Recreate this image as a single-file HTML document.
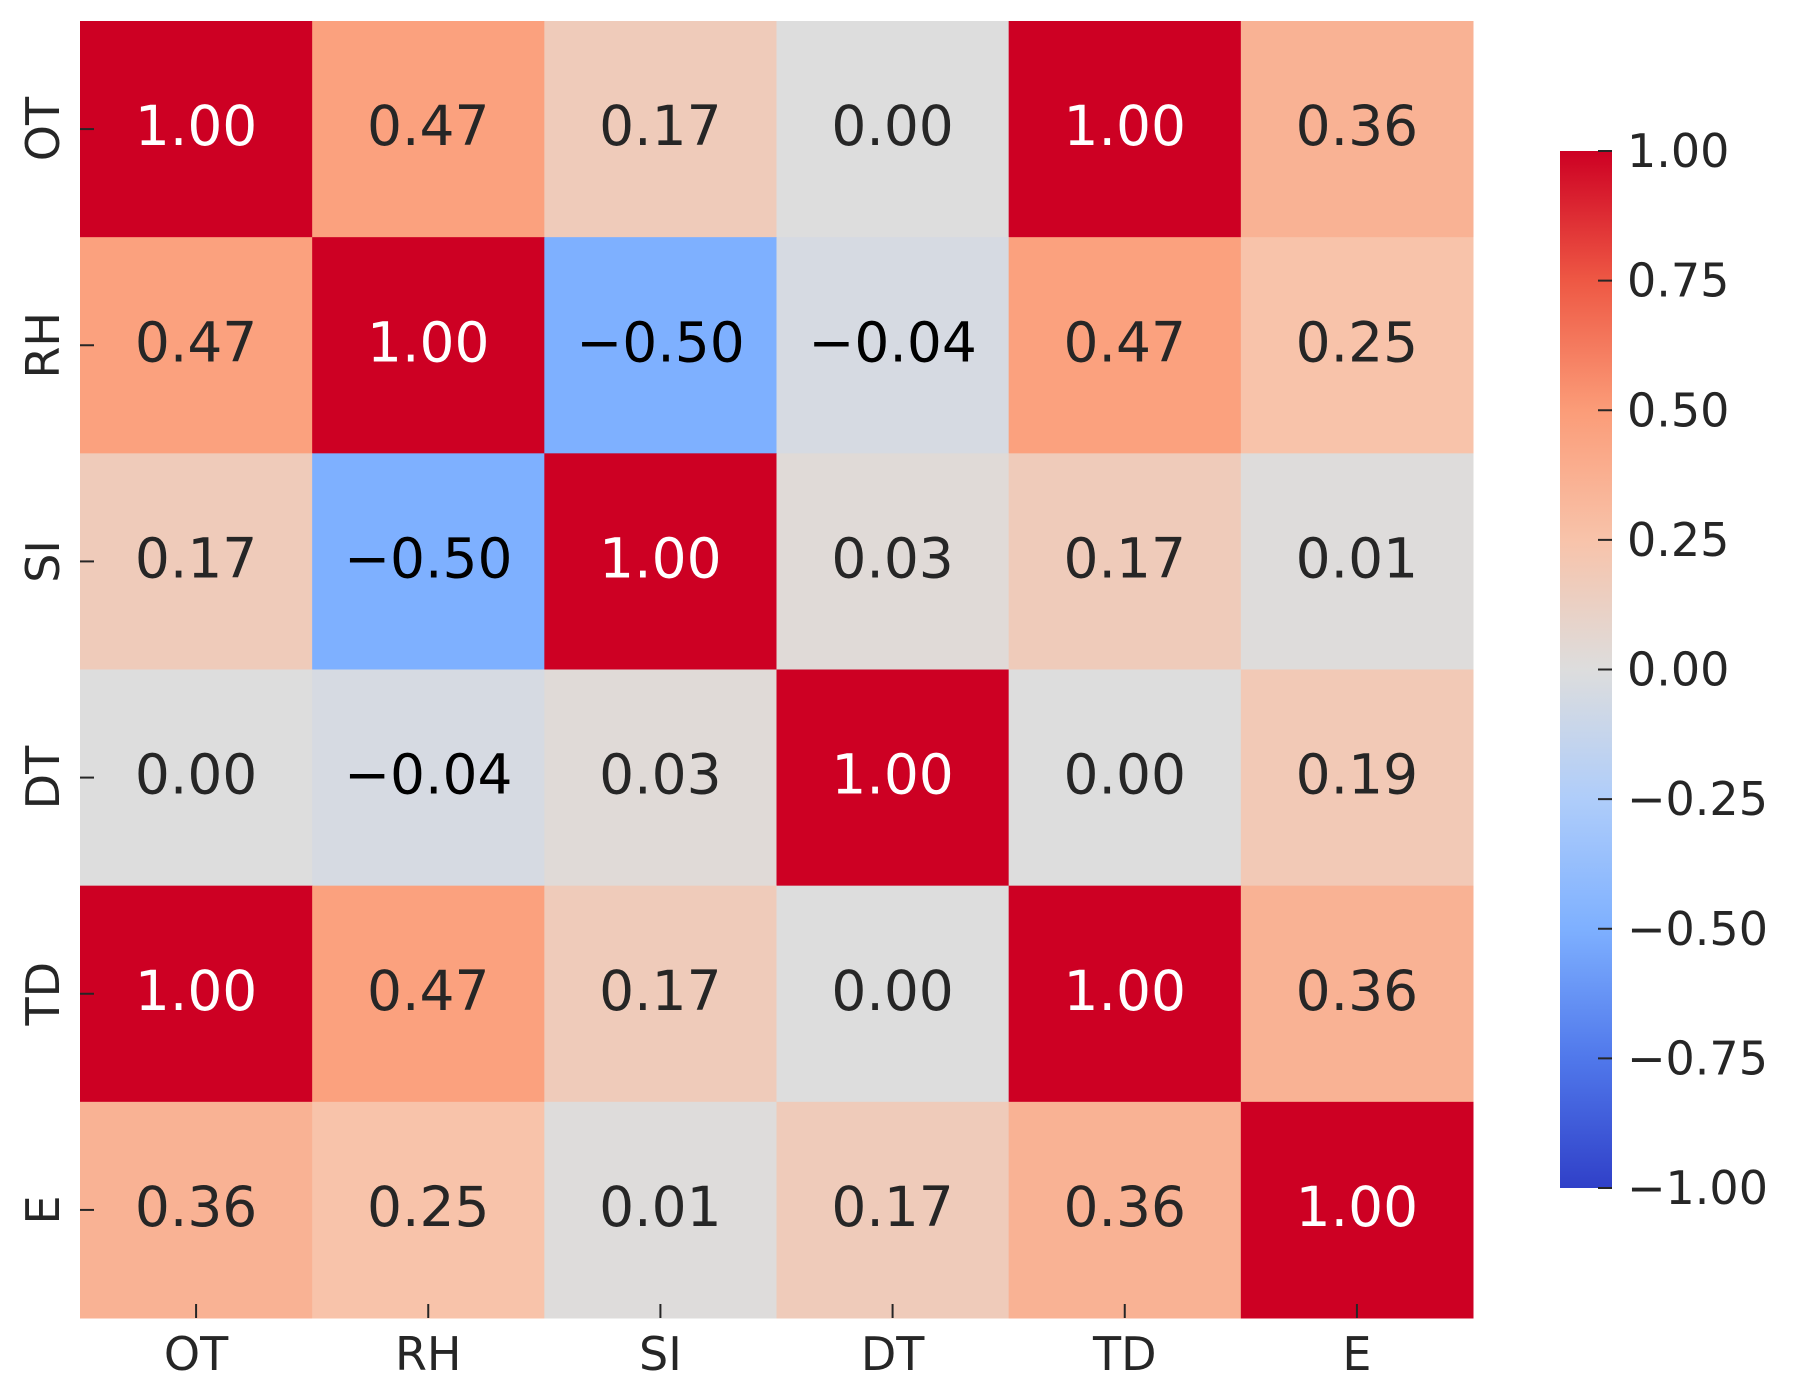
<!DOCTYPE html>
<html><head><meta charset="utf-8"><style>
html,body{margin:0;padding:0;background:#fff}
svg{display:block}
text{font-family:"DejaVu Sans","Liberation Sans",sans-serif}
</style></head><body>
<svg id="chart" width="1794" height="1388" viewBox="0 0 1794 1388">
<defs>
<linearGradient id="cbgrad" x1="0" y1="1" x2="0" y2="0">
<stop offset="0" stop-color="rgb(48,64,200)"/>
<stop offset="0.125" stop-color="rgb(80,120,235)"/>
<stop offset="0.25" stop-color="rgb(126,176,255)"/>
<stop offset="0.375" stop-color="rgb(175,205,250)"/>
<stop offset="0.5" stop-color="rgb(221,221,221)"/>
<stop offset="0.625" stop-color="rgb(248,195,170)"/>
<stop offset="0.75" stop-color="rgb(251,156,120)"/>
<stop offset="0.875" stop-color="rgb(238,88,68)"/>
<stop offset="1" stop-color="rgb(205,0,35)"/>
</linearGradient>
</defs>
<g id="cells"></g>
<g id="axes"></g>
<rect x="1560" y="151" width="52" height="1037" fill="url(#cbgrad)"/>
<g id="cbticks"></g>
</svg>
<script>
const labels = ["OT","RH","SI","DT","TD","E"];
const row0 = [1.00, 0.47, 0.17, 0.00, 1.00, 0.36];
const row1 = [0.47, 1.00, -0.50, -0.04, 0.47, 0.25];
const row2 = [0.17, -0.50, 1.00, 0.03, 0.17, 0.01];
const row3 = [0.00, -0.04, 0.03, 1.00, 0.00, 0.19];
const row4 = [1.00, 0.47, 0.17, 0.00, 1.00, 0.36];
const row5 = [0.36, 0.25, 0.01, 0.17, 0.36, 1.00];
const matrix = [row0,row1,row2,row3,row4,row5];
const cbTicks = [1.00,0.75,0.50,0.25,0.00,-0.25,-0.50,-0.75,-1.00];

const NS="http://www.w3.org/2000/svg";
const X0=80, X1=1473, Y0=21, Y1=1318;
const cw=(X1-X0)/labels.length, ch=(Y1-Y0)/labels.length;
const xPos=i=>X0+i*cw, yPos=j=>Y0+j*ch;
const CB0=151, CB1=1188;
const cbY=v=>CB1-(v+1)/2*(CB1-CB0);
const anchors=[[-1,[48,64,200]],[-0.75,[80,120,235]],[-0.5,[126,176,255]],[-0.25,[175,205,250]],[0,[221,221,221]],[0.25,[248,195,170]],[0.5,[251,156,120]],[0.75,[238,88,68]],[1,[205,0,35]]];
function color(v){
  for(let k=0;k<anchors.length-1;k++){
    const [a,ca]=anchors[k],[b,cb]=anchors[k+1];
    if(v<=b){const t=(v-a)/(b-a);return "rgb("+ca.map((c,i)=>Math.round(c+(cb[i]-c)*t)).join(",")+")";}
  }
  return "rgb(205,0,35)";
}
function mk(tag,attrs){const e=document.createElementNS(NS,tag);for(const k in attrs)e.setAttribute(k,attrs[k]);return e;}
const fmt=v=>(v<0?"\u2212":"")+Math.abs(v).toFixed(2);
const cells=document.getElementById("cells");
matrix.forEach((row,j)=>row.forEach((v,i)=>{
  const r=mk("rect",{x:xPos(i),y:yPos(j),width:cw+0.5,height:ch+0.5,fill:color(v)});
  
  
  cells.appendChild(r);
  const t=mk("text",{x:xPos(i)+cw/2,y:yPos(j)+ch/2+16,"text-anchor":"middle","font-size":"55",fill:v>0.8?"#ffffff":(v<0?"#000":"#262626")});
  t.textContent=fmt(v);
  
  
  cells.appendChild(t);
}));
const axes=document.getElementById("axes");
labels.forEach((l,i)=>{
  const cx=xPos(i)+cw/2;
  const tk=mk("line",{x1:cx,x2:cx,y1:Y1-14,y2:Y1,stroke:"#262626","stroke-width":"2"});
  
  
  axes.appendChild(tk);
  const t=mk("text",{x:cx,y:1370,"text-anchor":"middle","font-size":"46",fill:"#262626"});
  t.textContent=l;
  
  
  axes.appendChild(t);
  const cy=yPos(i)+ch/2;
  const tk2=mk("line",{x1:X0,x2:X0+14,y1:cy,y2:cy,stroke:"#262626","stroke-width":"2"});
  
  
  axes.appendChild(tk2);
  const t2=mk("text",{x:0,y:0,"text-anchor":"middle","font-size":"46",fill:"#262626",transform:"translate(59,"+cy+") rotate(-90)"});
  t2.textContent=l;
  
  
  axes.appendChild(t2);
});
const cbt=document.getElementById("cbticks");
cbTicks.forEach(v=>{
  const y=cbY(v);
  const tk=mk("line",{x1:1598,x2:1612,y1:y,y2:y,stroke:"#262626","stroke-width":"2"});
  
  
  cbt.appendChild(tk);
  const t=mk("text",{x:1627,y:y+16,"font-size":"46",fill:"#262626"});
  t.textContent=fmt(v);
  
  
  cbt.appendChild(t);
});
</script>
</body></html>
